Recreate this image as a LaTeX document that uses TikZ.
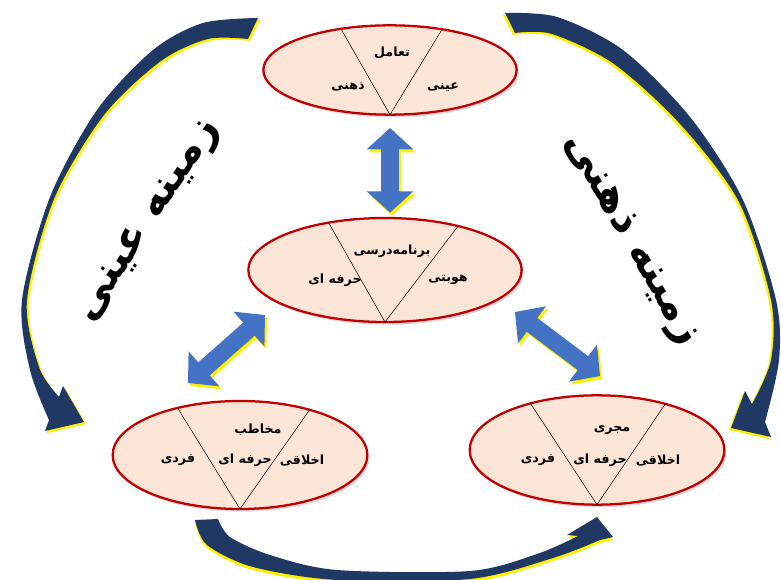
\documentclass[tikz,border=0pt]{standalone}
\usepackage{fontspec}
\usetikzlibrary{shapes.geometric,arrows.meta,shadows}
\TeXXeTstate=1
\newfontfamily\arabicfont[Script=Arabic]{DejaVu Sans}
\newcommand{\fa}[1]{{\arabicfont\bfseries\beginR #1\endR}}

\definecolor{ringred}{RGB}{192,0,0}
\definecolor{peach}{RGB}{251,229,214}
\definecolor{arrblue}{RGB}{68,114,196}
\definecolor{navy}{RGB}{31,56,100}
\definecolor{glow}{RGB}{255,240,0}

% outlines of the three big curved arrows
\newcommand{\bowleft}{plot[smooth] coordinates {(258,18) (203,23) (153,50) (97,110) (50,197) (22,300) (30,370) (49,420)} -- (45,431) -- (84,422) -- (63,386) -- (59,397) -- plot[smooth] coordinates {(59,397) (39,367) (27,300) (54,199) (104,115) (161,61) (208,39) (248,39)} -- cycle}
\newcommand{\bowright}{plot[smooth] coordinates {(505,13) (557,17) (623,50) (690,117) (743,200) (776,300) (779,360) (765,422)} -- (771,437) -- (731,428) -- (745,391) -- (752,404) -- plot[smooth] coordinates {(752,404) (771,360) (771,300) (739,202) (681,125) (614,64) (552,34) (515,33)} -- cycle}
\newcommand{\bowbottom}{(195,520) -- (218,519) -- plot[smooth] coordinates {(218,519) (230,537) (270,555) (337,570) (470,571) (537,554) (578,536)} -- (567,535) -- (597,517) -- (613,537) -- (600,540) -- plot[smooth] coordinates {(600,540) (553,558) (470,579) (337,580) (253,567) (207,545) (195,520)} -- cycle}

\tikzset{
  zone/.style={ellipse, draw=ringred, fill=peach, line width=1.7pt, outer sep=0pt,
    drop shadow={shadow xshift=1.5pt, shadow yshift=-2pt, opacity=.3}},
  lbl/.style={font=\fontsize{9.5}{11}\selectfont, inner sep=0pt},
  side/.style={font=\fontsize{32}{32}\selectfont, inner sep=0pt},
  dbl/.style={line width=13pt, draw=arrblue, >={Triangle[width=34pt,length=16pt]}, <->},
  dblglow/.style={dbl, draw=glow, transform canvas={shift={(1.5pt,-2.2pt)}}},
}

\begin{document}
\begin{tikzpicture}[x=0.75pt,y=-0.75pt]
        \useasboundingbox (0,0) rectangle (781,580);

        % curved arrows round the outside
        \fill[glow, shift={(2,2)}] \bowleft;
        \fill[navy] \bowleft;
        \fill[glow, shift={(-2,2)}] \bowright;
        \fill[navy] \bowright;
        \fill[glow, shift={(0,3)}] \bowbottom;
        \fill[navy] \bowbottom;

        \node[side, rotate=57] at (150,222) (zl) {\fa{زمینه عینی}};
        \node[side, rotate=-60] at (630,240) (zr) {\fa{زمینه ذهنی}};

        \node[zone, minimum width=190pt, minimum height=67pt] at (390,70) (T) {};
        \node[zone, minimum width=205pt, minimum height=78pt] at (385,270) (M) {};
        \node[zone, minimum width=191pt, minimum height=81pt] at (240,455) (L) {};
        \node[zone, minimum width=191pt, minimum height=82pt] at (597,450) (R) {};

        \draw (T.140) -- (T.south) -- (T.38);
        \draw (M.140) -- (M.south) -- (M.31);
        \draw (L.143) -- (L.south) -- (L.33);
        \draw (R.145) -- (R.south) -- (R.34);

        \node[lbl] at (392,53) (t1) {\fa{تعامل}};
        \node[lbl] at (348,87) (t2) {\fa{ذهنی}};
        \node[lbl] at (443,87) (t3) {\fa{عینی}};

        \node[lbl] at (392,251) (m1) {\fa{برنامه‌درسی}};
        \node[lbl] at (335,280) (m2) {\fa{حرفه ای}};
        \node[lbl] at (448,280) (m3) {\fa{هوبتی}};

        \node[lbl] at (258,430) (l1) {\fa{مخاطب}};
        \node[lbl] at (178,460) (l2) {\fa{فردی}};
        \node[lbl] at (245,460) (l3) {\fa{حرفه ای}};
        \node[lbl] at (302,460) (l4) {\fa{اخلاقی}};

        \node[lbl] at (612,430) (r1) {\fa{مجری}};
        \node[lbl] at (538,460) (r2) {\fa{فردی}};
        \node[lbl] at (600,460) (r3) {\fa{حرفه ای}};
        \node[lbl] at (658,460) (r4) {\fa{اخلاقی}};

        % double arrows between the zones
        \coordinate (a1) at (188,383);
        \coordinate (a2) at (265,315);
        \coordinate (b1) at (515,312);
        \coordinate (b2) at (600,376);

        \draw[dblglow, shorten <=10pt, shorten >=4pt] (T.south) -- (T.south |- M.north);
        \draw[dblglow] (a1) -- (a2);
        \draw[dblglow] (b1) -- (b2);
        \draw[dbl, shorten <=10pt, shorten >=4pt] (T.south) -- (T.south |- M.north);
        \draw[dbl] (a1) -- (a2);
        \draw[dbl] (b1) -- (b2);

    \end{tikzpicture}
\end{document}
